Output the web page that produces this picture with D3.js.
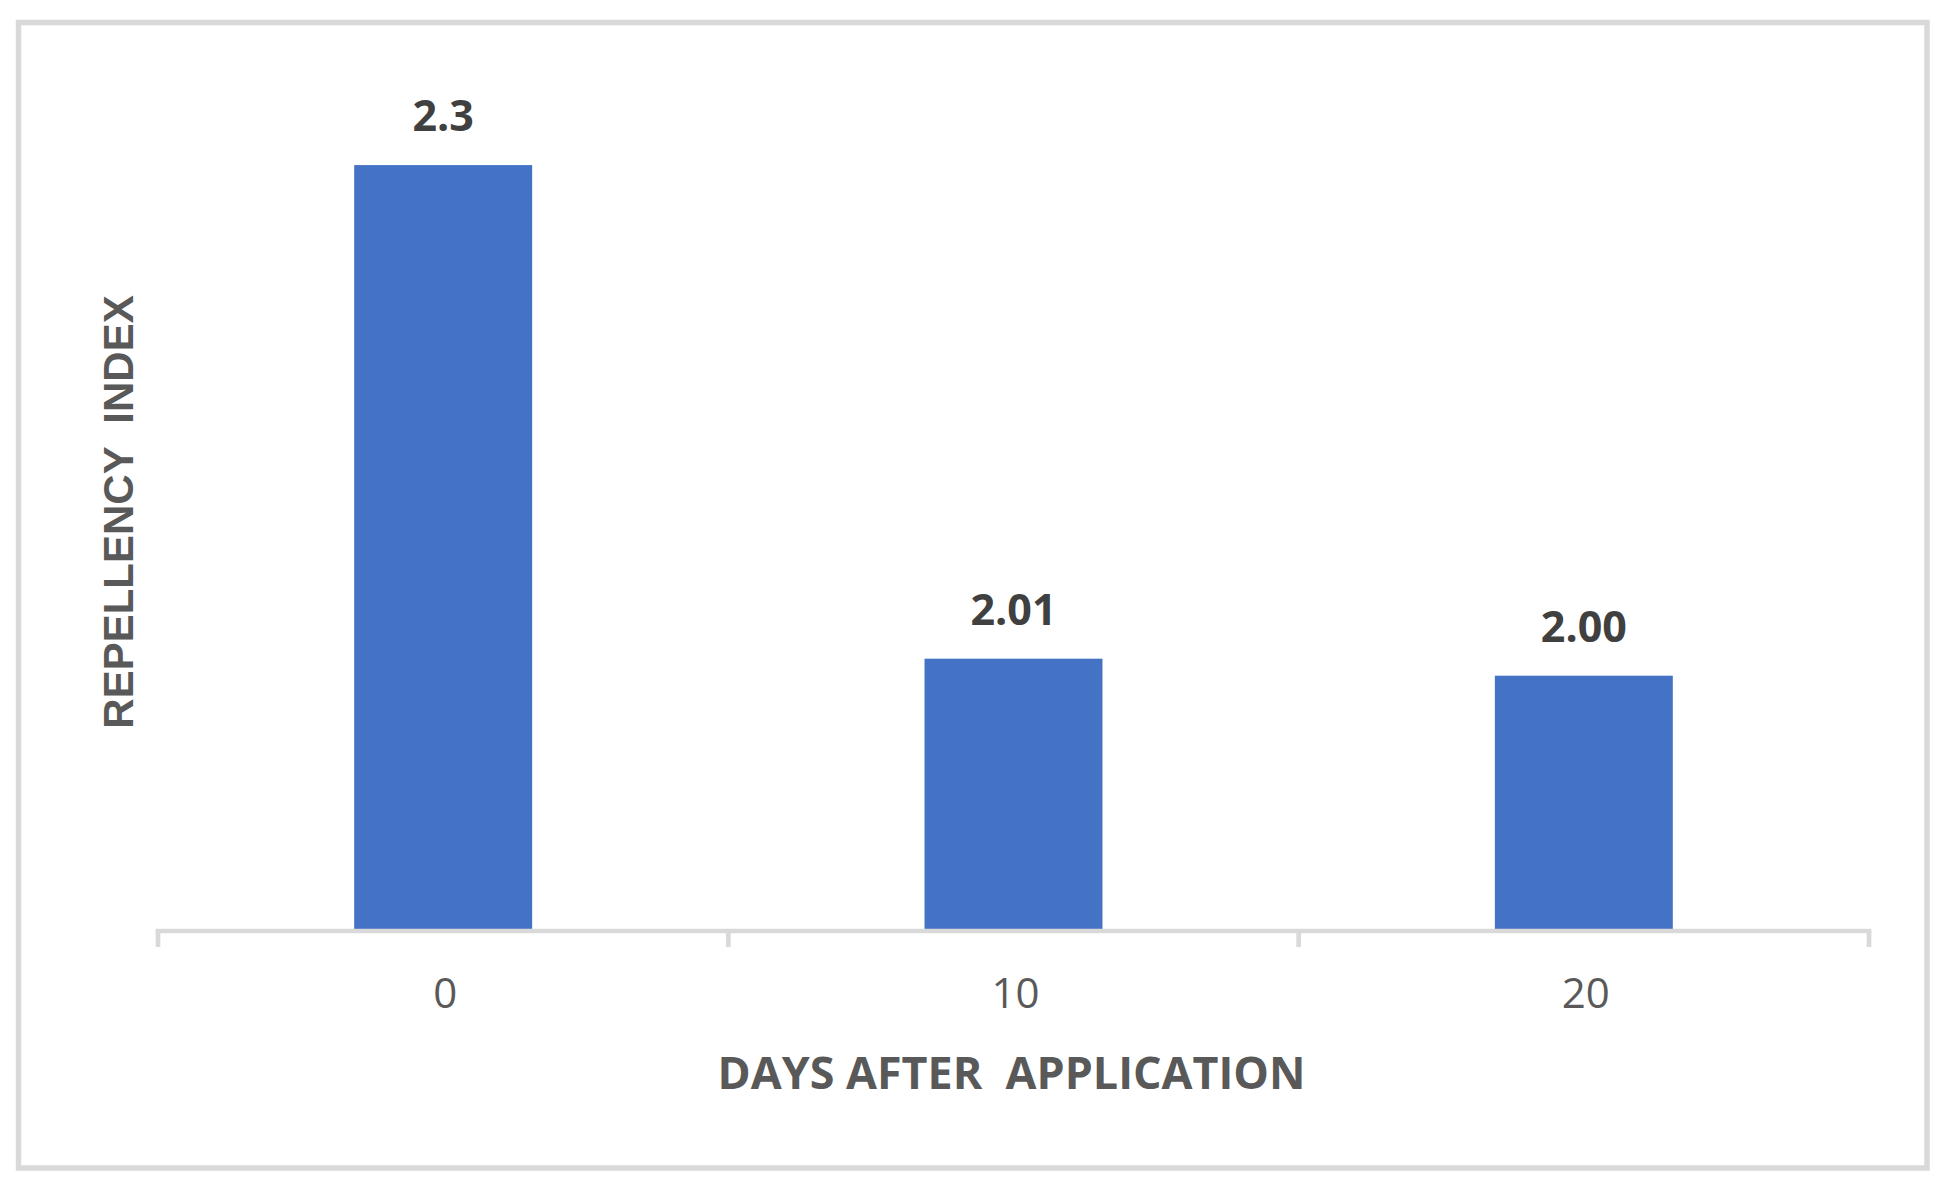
<!DOCTYPE html>
<html>
<head>
<meta charset="utf-8">
<script src="https://cdn.jsdelivr.net/npm/d3@7"></script>
<style>
  body { margin: 0; background: #ffffff; }
  svg { display: block; }
</style>
</head>
<body>
<svg id="chart"></svg>
<script>
// values
const days = ['0', '10', '20'];
const repellency = [2.3, 2.01, 2.00];
const valueLabels = ['2.3', '2.01', '2.00'];
const yDomain = [1.85, 2.35];

const WIDTH = 1944;
const HEIGHT = 1183;
const PLOT = {left: 158, right: 1869, top: 80, bottom: 931};

const svg = d3.select('#chart')
  .attr('width', WIDTH)
  .attr('height', HEIGHT);

// outer chart border
svg.append('rect')
  .attr('x', 18.5)
  .attr('y', 22.5)
  .attr('width', 1927 - 18.5)
  .attr('height', 1168 - 22.5)
  .attr('fill', '#ffffff')
  .attr('stroke', '#d9d9d9')
  .attr('stroke-width', 5.5);

const x = d3.scaleBand()
  .domain(days)
  .range([PLOT.left, PLOT.right])
  .paddingInner(0.688)
  .paddingOuter(0.344);

const y = d3.scaleLinear()
  .domain(yDomain)
  .range([PLOT.bottom, PLOT.top]);

const chart = svg.append('g');

// bars
chart.selectAll('.bar')
  .data(repellency)
  .enter()
  .append('rect')
  .classed('bar', true)
  .attr('x', (d, i) => x(days[i]))
  .attr('y', d => y(d))
  .attr('width', x.bandwidth())
  .attr('height', d => PLOT.bottom - y(d))
  .attr('fill', '#4472c4');

// value labels above bars
chart.selectAll('.label')
  .data(repellency)
  .enter()
  .append('text')
  .classed('label', true)
  .attr('x', (d, i) => x(days[i]) + x.bandwidth() / 2)
  .attr('y', d => y(d) - 34)
  .attr('text-anchor', 'middle')
  .attr('font-family', '"Open Sans", sans-serif')
  .attr('font-weight', 'bold')
  .attr('font-size', 43)
  .attr('fill', '#404040')
  .text((d, i) => valueLabels[i]);

// x axis line and category boundary ticks
const axis = chart.append('g')
  .attr('stroke', '#d9d9d9')
  .attr('stroke-width', 4.7);

axis.append('line')
  .attr('x1', PLOT.left - 2.35)
  .attr('x2', PLOT.right + 2.35)
  .attr('y1', PLOT.bottom)
  .attr('y2', PLOT.bottom);

const boundaries = d3.range(days.length + 1).map(i => x.range()[0] + i * x.step());
axis.selectAll('.tick')
  .data(boundaries)
  .enter()
  .append('line')
  .attr('x1', d => d)
  .attr('x2', d => d)
  .attr('y1', PLOT.bottom)
  .attr('y2', PLOT.bottom + 16);

// tick labels
chart.selectAll('.tick-label')
  .data(days)
  .enter()
  .append('text')
  .classed('tick-label', true)
  .attr('x', d => x(d) + x.bandwidth() / 2 + 2)
  .attr('y', 1008)
  .attr('text-anchor', 'middle')
  .attr('font-family', '"Open Sans", sans-serif')
  .attr('font-size', 42)
  .attr('fill', '#595959')
  .text(d => d);

// axis titles
svg.append('text')
  .attr('x', (PLOT.left + PLOT.right) / 2 - 2)
  .attr('y', 1089)
  .attr('text-anchor', 'middle')
  .attr('font-family', '"Open Sans", sans-serif')
  .attr('font-weight', 'bold')
  .attr('font-size', 44)
  .attr('fill', '#595959')
  .attr('textLength', 588)
  .attr('lengthAdjust', 'spacingAndGlyphs')
  .style('white-space', 'pre')
  .text('DAYS AFTER  APPLICATION');

svg.append('text')
  .attr('transform', 'translate(133, 512) rotate(-90)')
  .attr('text-anchor', 'middle')
  .attr('font-family', '"Liberation Sans", Arial, sans-serif')
  .attr('font-weight', 'bold')
  .attr('font-size', 42)
  .attr('fill', '#595959')
  .style('white-space', 'pre')
  .text('REPELLENCY  INDEX');
</script>
</body>
</html>
